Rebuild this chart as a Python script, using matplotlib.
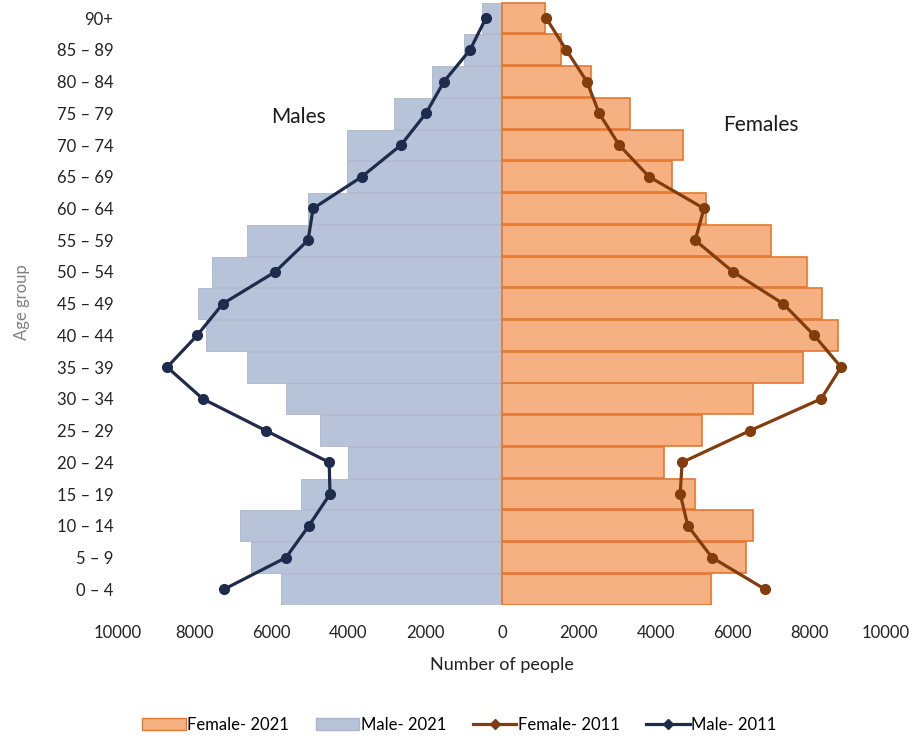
import matplotlib.pyplot as plt
import numpy as np
from matplotlib.lines import Line2D
from matplotlib.patches import Patch

plt.rcParams['font.family'] = ['Lato', 'DejaVu Sans']

# age groups, bottom to top
age_groups = ['0 – 4', '5 – 9', '10 – 14', '15 – 19', '20 – 24', '25 – 29', '30 – 34',
              '35 – 39', '40 – 44', '45 – 49', '50 – 54', '55 – 59', '60 – 64',
              '65 – 69', '70 – 74', '75 – 79', '80 – 84', '85 – 89', '90+']

male_2021 = [5750, 6530, 6820, 5230, 4010, 4740, 5625, 6640, 7710, 7920,
             7550, 6640, 5050, 4040, 4040, 2810, 1820, 990, 520]
female_2021 = [5440, 6350, 6540, 5030, 4220, 5210, 6540, 7840, 8750, 8330,
               7940, 7000, 5310, 4430, 4710, 3330, 2320, 1540, 1120]
male_2011 = [7240, 5625, 5030, 4480, 4500, 6150, 7790, 8720, 7940, 7270,
             5910, 5050, 4920, 3650, 2630, 1980, 1510, 830, 420]
female_2011 = [6850, 5470, 4840, 4640, 4690, 6460, 8310, 8830, 8130, 7320,
               6020, 5030, 5260, 3830, 3050, 2530, 2210, 1670, 1150]

xticks = [-10000, -8000, -6000, -4000, -2000, 0, 2000, 4000, 6000, 8000, 10000]

male_fill = '#B7C3D8'
female_fill = '#F6B183'
female_edge = '#E5772E'
male_line = '#1E2B4D'
female_line = '#833C0C'

fig = plt.figure(figsize=(9.19, 7.38), dpi=100)
ax = fig.add_axes([0.1284, 0.180, 0.8357, 0.817])

y = np.arange(len(age_groups))
ax.barh(y, -np.array(male_2021), height=0.97, color=male_fill, edgecolor='#A9B5CB', linewidth=0.6)
ax.barh(y, female_2021, height=0.97, color=female_fill, edgecolor=female_edge, linewidth=1.2)

ax.plot(-np.array(male_2011), y, color=male_line, lw=2.3, marker='o', ms=7)
ax.plot(female_2011, y, color=female_line, lw=2.3, marker='o', ms=7)

ax.set_xlim(-10000, 10000)
ax.set_ylim(-0.5, len(age_groups) - 0.5)
ax.set_xticks(xticks)
ax.set_xticklabels([str(abs(t)) for t in xticks])
ax.set_yticks(y)
ax.set_yticklabels(age_groups)
ax.tick_params(length=0, labelsize=12, labelcolor='#222222')
ax.tick_params(axis='x', pad=14)
for s in ax.spines.values():
    s.set_visible(False)

ax.set_xlabel('Number of people', fontsize=13, color='#222222', labelpad=12)
fig.text(0.024, 0.59, 'Age group', rotation=90, fontsize=12, color='#808080',
         ha='center', va='center')

ax.text(-5300, 14.88, 'Males', fontsize=15, color='#1a1a1a', ha='center', va='center')
ax.text(6750, 14.63, 'Females', fontsize=15, color='#1a1a1a', ha='center', va='center')

handles = [Patch(facecolor=female_fill, edgecolor=female_edge, label='Female- 2021'),
           Patch(facecolor=male_fill, edgecolor='#A9B5CB', label='Male- 2021'),
           Line2D([], [], color=female_line, lw=2.3, marker='D', ms=5, label='Female- 2011'),
           Line2D([], [], color=male_line, lw=2.3, marker='D', ms=5, label='Male- 2011')]
fig.legend(handles=handles, loc='center', bbox_to_anchor=(0.5, 0.018), ncol=4,
           frameon=False, fontsize=12, handlelength=2.6, handletextpad=0.1,
           columnspacing=1.6)

fig.savefig('out.png', dpi=100)
